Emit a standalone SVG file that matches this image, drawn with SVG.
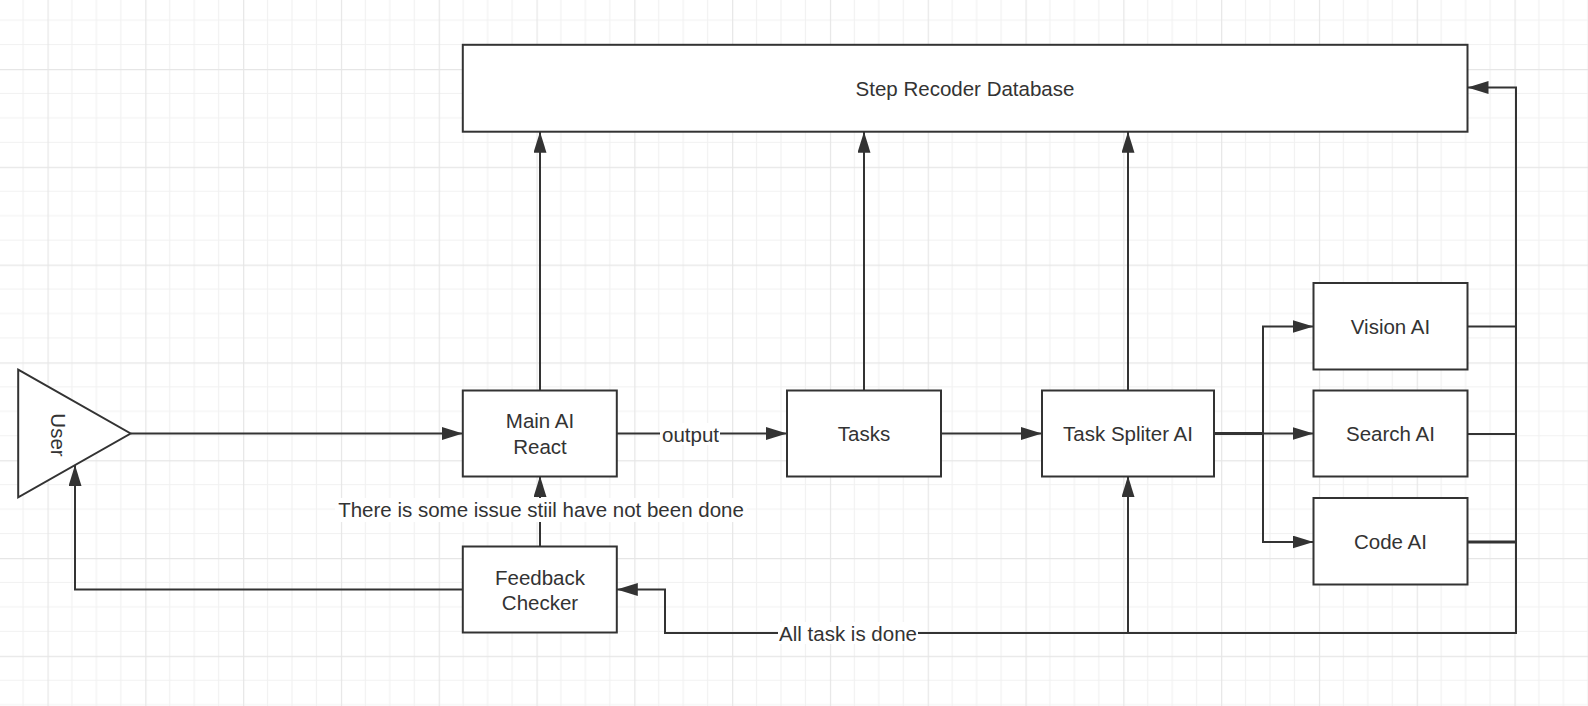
<svg xmlns="http://www.w3.org/2000/svg" width="1588" height="706" viewBox="0 0 1588 706">
  <style>
    .box { fill: #ffffff; stroke: #333333; stroke-width: 2; }
    .lbl { font-family: "Liberation Sans", Arial, sans-serif; font-size: 20.5px; fill: #333333; text-anchor: middle; dominant-baseline: central; }
    .edge { fill: none; stroke: #333333; stroke-width: 2; }
    .thick { fill: none; stroke: #333333; stroke-width: 3; }
    .minor { stroke: #f1f1f1; stroke-width: 1.2; }
    .major { stroke: #e6e6e6; stroke-width: 1.4; }
  </style>
  <defs>
    <pattern id="grid" patternUnits="userSpaceOnUse" x="47.5" y="69" width="97.8" height="97.8">
      <line class="minor" x1="24.45" y1="0" x2="24.45" y2="97.8"/>
      <line class="minor" x1="48.9" y1="0" x2="48.9" y2="97.8"/>
      <line class="minor" x1="73.35" y1="0" x2="73.35" y2="97.8"/>
      <line class="minor" x1="0" y1="24.45" x2="97.8" y2="24.45"/>
      <line class="minor" x1="0" y1="48.9" x2="97.8" y2="48.9"/>
      <line class="minor" x1="0" y1="73.35" x2="97.8" y2="73.35"/>
      <line class="major" x1="0.5" y1="0" x2="0.5" y2="97.8"/>
      <line class="major" x1="0" y1="0.5" x2="97.8" y2="0.5"/>
    </pattern>
    <marker id="arr" markerUnits="userSpaceOnUse" markerWidth="22" markerHeight="14" refX="21" refY="6.5" orient="auto">
      <path d="M0,0 L21,6.5 L0,13 Z" fill="#333333"/>
    </marker>
  </defs>

  <rect x="0" y="0" width="1588" height="706" fill="#ffffff"/>
  <rect x="0" y="0" width="1588" height="706" fill="url(#grid)"/>

  <g id="connectors">
    <path class="edge" d="M130.6,433.5 H462.8" marker-end="url(#arr)"/>
    <path class="edge" d="M616.8,433.5 H787" marker-end="url(#arr)"/>
    <path class="edge" d="M941,433.5 H1042" marker-end="url(#arr)"/>
    <path class="edge" d="M540,390 V131.7" marker-end="url(#arr)"/>
    <path class="edge" d="M864,390 V131.7" marker-end="url(#arr)"/>
    <path class="edge" d="M1128,390 V131.7" marker-end="url(#arr)"/>
    <path class="edge" d="M1214,433.5 H1263 V326.5 H1313.5" marker-end="url(#arr)"/>
    <path class="edge" d="M1214,433.5 H1313.5" marker-end="url(#arr)"/>
    <path class="edge" d="M1263,433.5 V542 H1313.5" marker-end="url(#arr)"/>
    <path class="thick" d="M1214,433.5 H1263"/>
    <path class="edge" d="M1467.5,326.5 H1516 V87.5 H1467.5" marker-end="url(#arr)"/>
    <path class="edge" d="M1467.5,434 H1516"/>
    <path class="thick" d="M1467.5,542 H1516"/>
    <path class="edge" d="M1516,300 V633 H1128 V476" marker-end="url(#arr)"/>
    <path class="edge" d="M1128,633 H665 V589.5 H616.8" marker-end="url(#arr)"/>
    <path class="edge" d="M540,546 V476" marker-end="url(#arr)"/>
    <path class="edge" d="M462.8,589.5 H75 V465" marker-end="url(#arr)"/>
    <rect x="660" y="423" width="60" height="22" fill="#ffffff"/>
    <text class="lbl" x="690.5" y="434.5">output</text>
    <rect x="335" y="498" width="412" height="24" fill="#ffffff"/>
    <text class="lbl" x="541" y="509.5">There is some issue stiil have not been done</text>
    <rect x="778" y="622" width="140" height="22" fill="#ffffff"/>
    <text class="lbl" x="848" y="633">All task is done</text>
  </g>

  <g id="user">
    <path class="box" d="M18.2,369.7 L130.6,433.5 L18.2,497.3 Z"/>
    <text class="lbl" transform="translate(58,435) rotate(90)" x="0" y="0">User</text>
  </g>
  <g id="database">
    <rect class="box" x="462.8" y="44.8" width="1004.7" height="86.9"/>
    <text class="lbl" x="965" y="88">Step Recoder Database</text>
  </g>
  <g id="main-ai">
    <rect class="box" x="462.8" y="390.5" width="154" height="86"/>
    <text class="lbl" x="540" y="420.5">Main AI</text>
    <text class="lbl" x="540" y="446.5">React</text>
  </g>
  <g id="feedback">
    <rect class="box" x="462.8" y="546.5" width="154" height="86"/>
    <text class="lbl" x="540" y="577">Feedback</text>
    <text class="lbl" x="540" y="602.5">Checker</text>
  </g>
  <g id="tasks">
    <rect class="box" x="787" y="390.5" width="154" height="86"/>
    <text class="lbl" x="864" y="433.5">Tasks</text>
  </g>
  <g id="task-spliter">
    <rect class="box" x="1042" y="390.5" width="172" height="86"/>
    <text class="lbl" x="1128" y="433.5">Task Spliter AI</text>
  </g>
  <g id="vision-ai">
    <rect class="box" x="1313.5" y="283" width="154" height="86.5"/>
    <text class="lbl" x="1390.5" y="326.5">Vision AI</text>
  </g>
  <g id="search-ai">
    <rect class="box" x="1313.5" y="390.5" width="154" height="86"/>
    <text class="lbl" x="1390.5" y="433.5">Search AI</text>
  </g>
  <g id="code-ai">
    <rect class="box" x="1313.5" y="498" width="154" height="86.5"/>
    <text class="lbl" x="1390.5" y="541">Code AI</text>
  </g>
</svg>
